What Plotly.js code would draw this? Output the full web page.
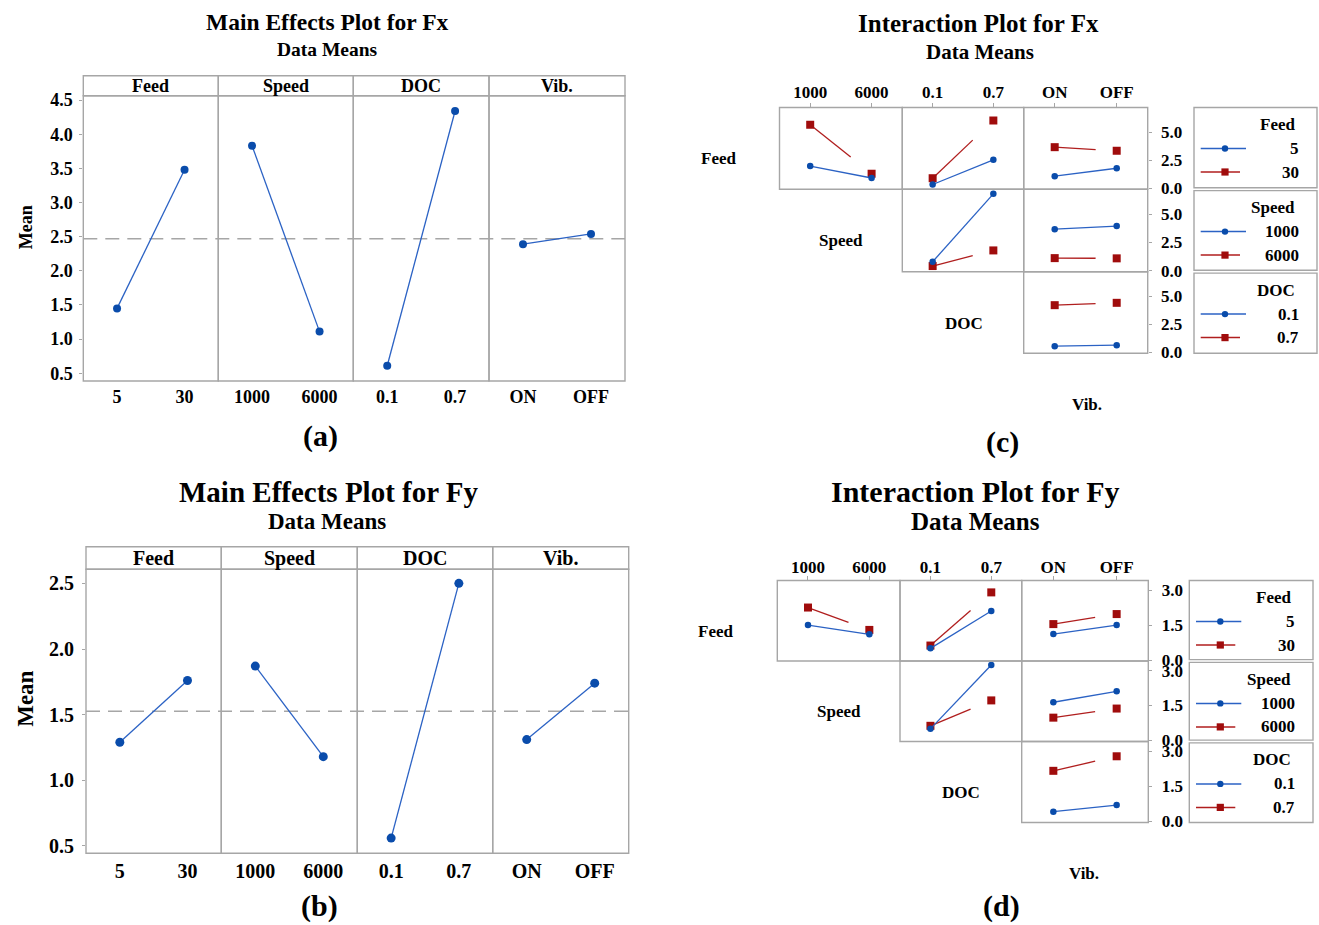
<!DOCTYPE html>
<html>
<head>
<meta charset="utf-8">
<script src="https://cdn.plot.ly/plotly-3.0.1.min.js"></script>
<style>
  html, body { margin: 0; padding: 0; background: #ffffff; }
  #chart { width: 1319px; height: 925px; }
</style>
</head>
<body>
<div id="chart"></div>
<script>
// ---- factors and levels ----
const factorNames = ['Feed', 'Speed', 'DOC', 'Vib.'];
const feedLevels = ['5', '30'];
const speedLevels = ['1000', '6000'];
const docLevels = ['0.1', '0.7'];
const vibLevels = ['ON', 'OFF'];

// ---- main-effect means, Fx ----
const fxFeed = [1.45, 3.48];
const fxSpeed = [3.83, 1.11];
const fxDoc = [0.61, 4.34];
const fxVib = [2.39, 2.54];

// ---- main-effect means, Fy ----
const fyFeed = [1.29, 1.76];
const fySpeed = [1.87, 1.18];
const fyDoc = [0.56, 2.50];
const fyVib = [1.31, 1.74];

// ---- interaction means, Fx (row factor level -> values across column factor levels) ----
const fxFeedSpeed5 = [1.98, 0.92];
const fxFeedSpeed30 = [5.67, 1.30];
const fxFeedDoc5 = [0.34, 2.54];
const fxFeedDoc30 = [0.90, 6.05];
const fxFeedVib5 = [1.08, 1.79];
const fxFeedVib30 = [3.67, 3.35];
const fxSpeedDoc1000 = [0.80, 6.80];
const fxSpeedDoc6000 = [0.42, 1.80];
const fxSpeedVib1000 = [3.68, 3.95];
const fxSpeedVib6000 = [1.12, 1.10];
const fxDocVib01 = [0.56, 0.65];
const fxDocVib07 = [4.22, 4.43];

// ---- interaction means, Fy ----
const fyFeedSpeed5 = [1.50, 1.10];
const fyFeedSpeed30 = [2.25, 1.29];
const fyFeedDoc5 = [0.50, 2.10];
const fyFeedDoc30 = [0.62, 2.90];
const fyFeedVib5 = [1.11, 1.50];
const fyFeedVib30 = [1.54, 1.97];
const fySpeedDoc1000 = [0.50, 3.24];
const fySpeedDoc6000 = [0.63, 1.72];
const fySpeedVib1000 = [1.64, 2.11];
const fySpeedVib6000 = [0.98, 1.37];
const fyDocVib01 = [0.42, 0.70];
const fyDocVib07 = [2.16, 2.78];

// ---- drawing setup ----
const W = 1319, H = 925;
const FONT = '"Liberation Serif", "Times New Roman", Times, serif';
const BOX = '#a6a6a6';
const BLUE = '#2b62c4', BLUE_DOT = '#0a4cab';
const RED = '#b01e1e', RED_DOT = '#a00c0c';
const levelSets = [feedLevels, speedLevels, docLevels, vibLevels];

const traces = [], shapes = [], annotations = [];
const layout = {
  width: W, height: H,
  margin: { l: 0, r: 0, t: 0, b: 0 },
  paper_bgcolor: '#ffffff',
  plot_bgcolor: 'rgba(0,0,0,0)',
  showlegend: false,
  hovermode: false,
  font: { family: FONT, color: '#000' }
};

let nx = 0, ny = 0;
const nextX = () => { nx++; return nx === 1 ? 'x' : 'x' + nx; };
const nextY = () => { ny++; return ny === 1 ? 'y' : 'y' + ny; };
const axisKey = id => id.charAt(0) + 'axis' + id.slice(1);
const fx = v => v / W;
const fy = v => 1 - v / H;

function label(str, x, y, size, extra) {
  annotations.push(Object.assign({
    text: str, xref: 'paper', yref: 'paper', x: fx(x), y: fy(y),
    showarrow: false, xanchor: 'center', yanchor: 'middle', borderpad: 0,
    font: { family: FONT, size: size, color: '#000', weight: 'bold' }
  }, extra || {}));
}

function boldFont(size) { return { family: FONT, size: size, color: '#000', weight: 'bold' }; }

// ---- main effects panel ----
function mainEffects(g, series) {
  const yId = nextY();
  const xIds = [];
  for (let i = 0; i < 4; i++) {
    const xId = nextX();
    xIds.push(xId);
    const a = g.edges[i], b = g.edges[i + 1];
    layout[axisKey(xId)] = {
      domain: [fx(a), fx(b)], anchor: yId, range: [-0.5, 1.5],
      tickmode: 'array', tickvals: [0, 1], ticktext: levelSets[i],
      ticks: '', showgrid: false, zeroline: false, showline: false,
      ticklabelstandoff: g.xStandoff,
      tickfont: boldFont(g.tick), fixedrange: true
    };
    traces.push({
      type: 'scatter', mode: 'lines+markers', x: [0, 1], y: series[i],
      xaxis: xId, yaxis: yId, cliponaxis: false,
      line: { color: BLUE, width: 1.3 },
      marker: { color: BLUE_DOT, size: g.marker, symbol: 'circle' }
    });
    shapes.push({ type: 'rect', xref: xId + ' domain', yref: yId + ' domain',
      x0: 0, x1: 1, y0: 0, y1: 1, line: { color: BOX, width: 1.4 } });
    shapes.push({ type: 'rect', xref: 'paper', yref: 'paper',
      x0: fx(a), x1: fx(b), y0: fy(g.plotTop), y1: fy(g.stripTop),
      line: { color: BOX, width: 1.4 } });
    label(factorNames[i], (a + b) / 2, (g.stripTop + g.plotTop) / 2, g.strip);
  }
  layout[axisKey(yId)] = {
    domain: [fy(g.plotBottom), fy(g.plotTop)], anchor: xIds[0], range: g.yRange,
    tickmode: 'linear', tick0: 0.5, dtick: 0.5, tickformat: '.1f',
    ticks: 'outside', ticklen: 3, tickcolor: BOX,
    showgrid: false, zeroline: false, showline: false,
    ticklabelstandoff: g.yStandoff,
    tickfont: boldFont(g.tick), fixedrange: true
  };
  // grand mean reference line
  const all = series.flat();
  const grand = all.reduce((s, v) => s + v, 0) / all.length;
  shapes.push({ type: 'line', layer: 'below', xref: 'paper', yref: yId,
    x0: fx(g.edges[0]), x1: fx(g.edges[4]), y0: grand, y1: grand,
    line: { color: BOX, width: 1.6, dash: '14px,8px' } });
}

// ---- interaction matrix panel ----
function interaction(g, cells) {
  const xIds = [nextX(), nextX(), nextX()];
  const yIds = [nextY(), nextY(), nextY()];
  const colLevels = [speedLevels, docLevels, vibLevels];
  const span = g.yRange[1] - g.yRange[0];
  xIds.forEach((id, c) => {
    layout[axisKey(id)] = {
      domain: [fx(g.cols[c]), fx(g.cols[c + 1])], anchor: yIds[0], side: 'top',
      range: [-0.5, 1.5], tickmode: 'array', tickvals: [0, 1], ticktext: colLevels[c],
      ticks: 'outside', ticklen: 4, tickcolor: BOX,
      showgrid: false, zeroline: false, showline: false,
      ticklabelstandoff: g.xStandoff,
      tickfont: boldFont(g.tick), fixedrange: true
    };
  });
  yIds.forEach((id, r) => {
    layout[axisKey(id)] = {
      domain: [fy(g.rows[r + 1]), fy(g.rows[r])], anchor: xIds[2], side: 'right',
      range: g.yRange, tickmode: 'linear', tick0: 0, dtick: g.dtick, tickformat: '.1f',
      ticks: 'outside', ticklen: 3, tickcolor: BOX,
      showgrid: false, zeroline: false, showline: false,
      ticklabelstandoff: g.yStandoff,
      tickfont: boldFont(g.tick), fixedrange: true
    };
  });
  cells.forEach(cell => {
    const xId = xIds[cell.c], yId = yIds[cell.r];
    const colW = g.cols[cell.c + 1] - g.cols[cell.c];
    const rowH = g.rows[cell.r + 1] - g.rows[cell.r];
    const dx = colW / 2;
    const dy = (cell.hi[1] - cell.hi[0]) * rowH / span;
    const seg = 0.66 * Math.hypot(dx, dy);
    traces.push({
      type: 'scatter', mode: 'lines+markers', x: [0, 1], y: cell.hi,
      xaxis: xId, yaxis: yId, cliponaxis: false,
      line: { color: RED, width: 1.3, dash: seg.toFixed(1) + 'px,600px' },
      marker: { color: RED_DOT, size: 8, symbol: 'square' }
    });
    traces.push({
      type: 'scatter', mode: 'lines+markers', x: [0, 1], y: cell.lo,
      xaxis: xId, yaxis: yId, cliponaxis: false,
      line: { color: BLUE, width: 1.3 },
      marker: { color: BLUE_DOT, size: 6.5, symbol: 'circle' }
    });
    shapes.push({ type: 'rect', xref: xId + ' domain', yref: yId + ' domain',
      x0: 0, x1: 1, y0: 0, y1: 1, line: { color: BOX, width: 1.4 } });
  });
  // factor names on the diagonal
  const colW0 = g.cols[1] - g.cols[0];
  for (let k = 0; k < 4; k++) {
    const cx = g.cols[0] - colW0 / 2 + k * colW0;
    const rowTop = k < 3 ? g.rows[k] : g.rows[3];
    const rowBot = k < 3 ? g.rows[k + 1] : g.rows[3] + (g.rows[3] - g.rows[2]);
    label(factorNames[k], cx, (rowTop + rowBot) / 2 + 10.5, g.tick);
  }
  // legend boxes, one per row factor
  const L0 = g.legend[0], L1 = g.legend[1];
  for (let r = 0; r < 3; r++) {
    const top = g.rows[r] + (r ? 1.4 : 0), bot = g.rows[r + 1] - (r < 2 ? 1.4 : 0);
    shapes.push({ type: 'rect', xref: 'paper', yref: 'paper',
      x0: fx(L0), x1: fx(L1), y0: fy(bot), y1: fy(top), line: { color: BOX, width: 1.4 } });
    label(factorNames[r], L1 - 21, top + 17, g.tick, { xanchor: 'right' });
    const lv = levelSets[r];
    [[BLUE, BLUE_DOT, 52, 'circle'], [RED, RED_DOT, 46, 'rect']].forEach((st, j) => {
      const yy = top + 41 + j * 23.5;
      shapes.push({ type: 'line', xref: 'paper', yref: 'paper',
        x0: fx(L0 + 6.7), x1: fx(L0 + st[2]), y0: fy(yy), y1: fy(yy),
        line: { color: st[0], width: 1.5 } });
      const h = st[3] === 'circle' ? 3.2 : 3.6;
      shapes.push({ type: st[3], xref: 'paper', yref: 'paper',
        x0: fx(L0 + 31 - h), x1: fx(L0 + 31 + h), y0: fy(yy + h), y1: fy(yy - h),
        fillcolor: st[1], line: { width: 0 } });
      label(lv[j], L1 - 17, yy, g.tick, { xanchor: 'right' });
    });
  }
}

// ---- (a) main effects for Fx ----
mainEffects({
  edges: [83.3, 218.3, 353.3, 489, 625], stripTop: 75.7, plotTop: 95.7, plotBottom: 381,
  yRange: [0.387, 4.564], tick: 18, strip: 18, marker: 8,
  xStandoff: 3, yStandoff: 3
}, [fxFeed, fxSpeed, fxDoc, fxVib]);

// ---- (b) main effects for Fy ----
mainEffects({
  edges: [86, 221.3, 357.3, 492.7, 628.7], stripTop: 546.7, plotTop: 569.3, plotBottom: 853.3,
  yRange: [0.444, 2.607], tick: 20, strip: 20, marker: 9,
  xStandoff: 4, yStandoff: 4
}, [fyFeed, fySpeed, fyDoc, fyVib]);

// ---- (c) interaction matrix for Fx ----
interaction({
  cols: [779.5, 902.3, 1023.7, 1147.7], rows: [107.5, 189.2, 271.7, 353.3],
  yRange: [-0.08, 7.21], dtick: 2.5, legend: [1194, 1317], tick: 17,
  xStandoff: -2, yStandoff: 6
}, [
  { r: 0, c: 0, lo: fxFeedSpeed5, hi: fxFeedSpeed30 },
  { r: 0, c: 1, lo: fxFeedDoc5, hi: fxFeedDoc30 },
  { r: 0, c: 2, lo: fxFeedVib5, hi: fxFeedVib30 },
  { r: 1, c: 1, lo: fxSpeedDoc1000, hi: fxSpeedDoc6000 },
  { r: 1, c: 2, lo: fxSpeedVib1000, hi: fxSpeedVib6000 },
  { r: 2, c: 2, lo: fxDocVib01, hi: fxDocVib07 }
]);

// ---- (d) interaction matrix for Fy ----
interaction({
  cols: [777.3, 900, 1021.7, 1148.3], rows: [580.5, 661, 741.5, 822.5],
  yRange: [-0.043, 3.41], dtick: 1.5, legend: [1189.3, 1313], tick: 17,
  xStandoff: -4, yStandoff: 6
}, [
  { r: 0, c: 0, lo: fyFeedSpeed5, hi: fyFeedSpeed30 },
  { r: 0, c: 1, lo: fyFeedDoc5, hi: fyFeedDoc30 },
  { r: 0, c: 2, lo: fyFeedVib5, hi: fyFeedVib30 },
  { r: 1, c: 1, lo: fySpeedDoc1000, hi: fySpeedDoc6000 },
  { r: 1, c: 2, lo: fySpeedVib1000, hi: fySpeedVib6000 },
  { r: 2, c: 2, lo: fyDocVib01, hi: fyDocVib07 }
]);

// ---- titles, axis names, panel letters ----
label('Main Effects Plot for Fx', 327, 22.5, 23.5);
label('Data Means', 327, 49, 19.5);
label('Mean', 26.3, 227, 18, { textangle: -90 });
label('(a)', 320, 436, 30);

label('Main Effects Plot for Fy', 328.6, 491.7, 29);
label('Data Means', 326.8, 521, 23);
label('Mean', 24.8, 699, 23, { textangle: -90 });
label('(b)', 319.4, 906, 30);

label('Interaction Plot for Fx', 978.3, 23.3, 25);
label('Data Means', 979.5, 51.7, 21);
label('(c)', 1002.6, 441.7, 30);

label('Interaction Plot for Fy', 975.3, 491.7, 30);
label('Data Means', 975, 521.7, 25);
label('(d)', 1001, 906, 30);

layout.shapes = shapes;
layout.annotations = annotations;

Plotly.newPlot('chart', traces, layout, { staticPlot: true, displayModeBar: false });
</script>
</body>
</html>
